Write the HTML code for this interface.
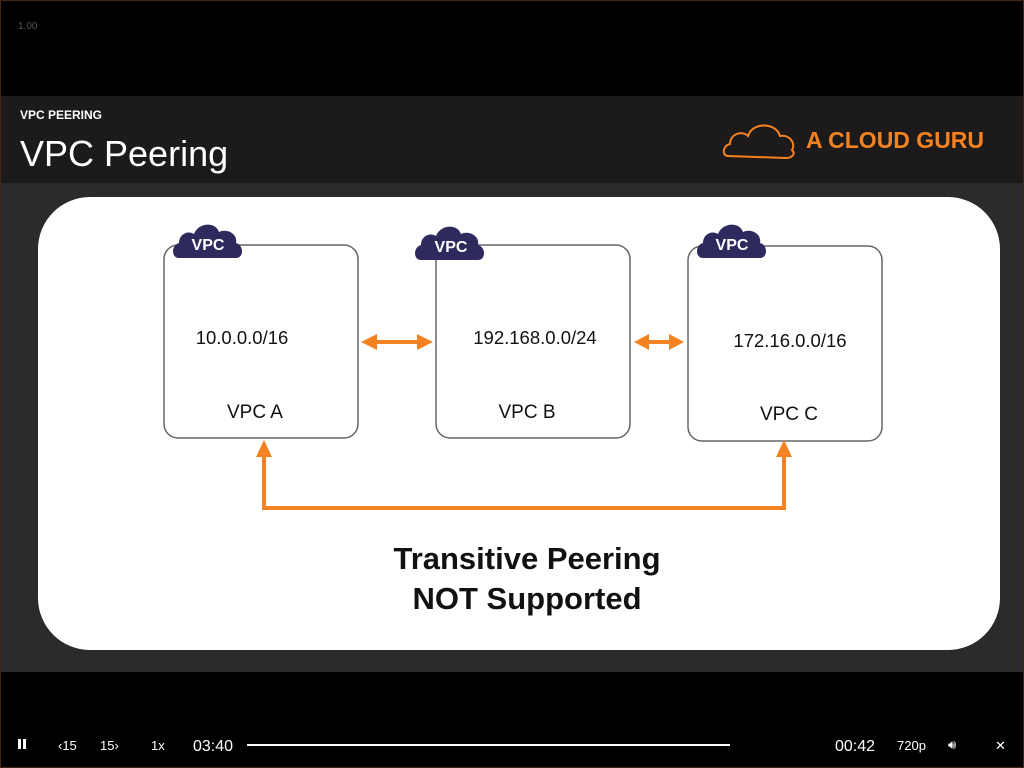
<!DOCTYPE html>
<html><head><meta charset="utf-8"><style>
html,body{margin:0;padding:0;background:#000;}
body{width:1024px;height:768px;overflow:hidden;position:relative;font-family:"Liberation Sans",sans-serif;}
</style></head><body>
<svg width="1024" height="768" viewBox="0 0 1024 768" xmlns="http://www.w3.org/2000/svg" style="position:absolute;left:0;top:0">
<defs>
<g id="cloud">
<path d="M8,38 C0,38 0,25 8,23 C8,14 17,10 23,14 C27,3 44,1 48,12 C56,8 67,14 65,23 C73,25 73,38 65,38 Z" fill="#2e2a5e"/>
</g>
</defs>
<rect x="0" y="0" width="1024" height="768" fill="#000"/>
<rect x="0.5" y="0.5" width="1023" height="767" fill="none" stroke="#4a2418"/>
<text x="18" y="29" fill="#555" font-size="10">1.00</text>
<rect x="1" y="96" width="1022" height="87" fill="#1c1a1a"/>
<rect x="1" y="183" width="1022" height="489" fill="#2b2a2c"/>
<text x="20" y="119" fill="#fff" font-size="12" font-weight="bold">VPC PEERING</text>
<text x="20" y="166" fill="#fff" font-size="36">VPC Peering</text>
<path d="M728,156 C722,156 722,146 730,144 C730,134 742,130 748,136 C752,122 776,122 780,136 C790,134 796,144 792,150 C796,154 792,158 786,158 Z" fill="none" stroke="#f58220" stroke-width="2"/>
<text x="806" y="148" fill="#f58220" font-size="23" font-weight="bold">A CLOUD GURU</text>
<rect x="38" y="197" width="962" height="453" rx="52" fill="#fff"/>
<g fill="#fff" stroke="#666" stroke-width="1.5">
<rect x="164" y="245" width="194" height="193" rx="14"/>
<rect x="436" y="245" width="194" height="193" rx="14"/>
<rect x="688" y="246" width="194" height="195" rx="14"/>
</g>
<use href="#cloud" x="171" y="220"/>
<use href="#cloud" x="413" y="222"/>
<use href="#cloud" x="695" y="220"/>
<g fill="#fff" font-size="16" font-weight="bold" text-anchor="middle">
<text x="208" y="250">VPC</text>
<text x="451" y="252">VPC</text>
<text x="732" y="250">VPC</text>
</g>
<g fill="#111" font-size="18.5" text-anchor="middle">
<text x="242" y="344">10.0.0.0/16</text>
<text x="535" y="344">192.168.0.0/24</text>
<text x="790" y="347">172.16.0.0/16</text>
<text x="255" y="418" font-size="19">VPC A</text>
<text x="527" y="418" font-size="19">VPC B</text>
<text x="789" y="420" font-size="19">VPC C</text>
</g>
<g fill="#f58220" stroke="none">
<rect x="372" y="340" width="50" height="4"/>
<polygon points="361,342 377,334 377,350"/>
<polygon points="433,342 417,334 417,350"/>
<rect x="644" y="340" width="30" height="4"/>
<polygon points="634,342 649,334 649,350"/>
<polygon points="684,342 669,334 669,350"/>
<polygon points="264,440 256,457 272,457"/>
<polygon points="784,440 776,457 792,457"/>
</g>
<polyline points="264,455 264,508 784,508 784,455" fill="none" stroke="#f58220" stroke-width="4"/>
<g fill="#111" font-size="31" font-weight="bold" text-anchor="middle">
<text x="527" y="569">Transitive Peering</text>
<text x="527" y="609">NOT Supported</text>
</g>
<g fill="#fff" font-size="13">
<rect x="18" y="739" width="3" height="10"/><rect x="23" y="739" width="3" height="10"/>
<text x="58" y="750">‹15</text>
<text x="100" y="750">15›</text>
<text x="151" y="750">1x</text>
<text x="193" y="751" font-size="16">03:40</text>
<rect x="247" y="744" width="483" height="2"/>
<text x="835" y="751" font-size="16">00:42</text>
<text x="897" y="750">720p</text>
<text x="948" y="749">🔊︎</text>
<text x="995" y="750">✕</text>
</g>
</svg>
</body></html>
